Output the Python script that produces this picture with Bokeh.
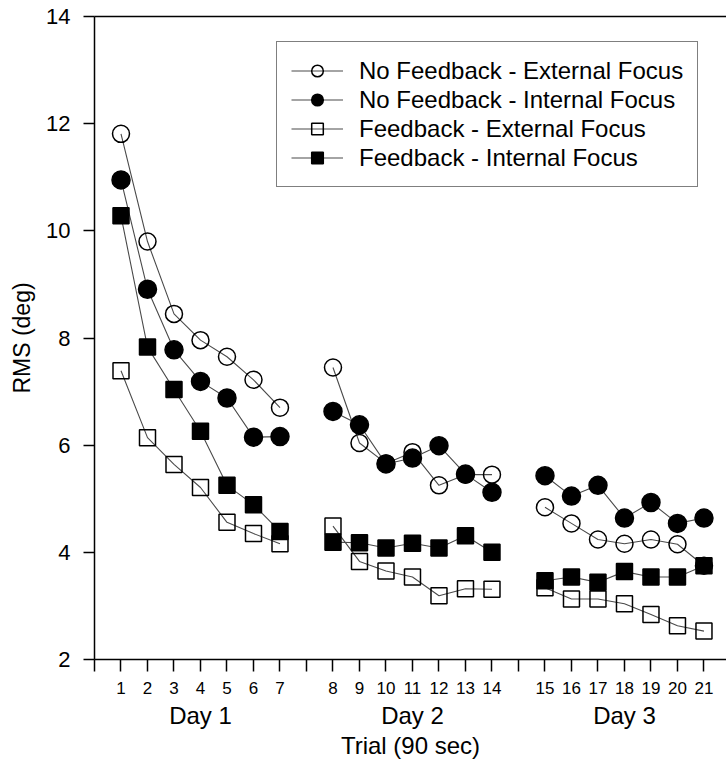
from bokeh.plotting import figure
from bokeh.models import (Range1d, FixedTicker, LinearAxis, Legend, LegendItem)
from bokeh.embed import file_html
from bokeh.resources import INLINE

# ---- data ----
trials = list(range(1, 22))
days = [1] * 7 + [2] * 7 + [3] * 7
day_names = ["Day 1", "Day 2", "Day 3"]

nf_external = [11.81, 9.80, 8.45, 7.96, 7.65, 7.22, 6.70,
               7.45, 6.04, 5.66, 5.87, 5.25, 5.45, 5.45,
               4.84, 4.54, 4.24, 4.16, 4.24, 4.15, 3.75]
nf_internal = [10.95, 8.91, 7.78, 7.19, 6.88, 6.15, 6.16,
               6.63, 6.38, 5.65, 5.76, 5.99, 5.46, 5.12,
               5.43, 5.05, 5.25, 4.64, 4.93, 4.54, 4.64]
fb_external = [7.39, 6.14, 5.64, 5.21, 4.56, 4.35, 4.16,
               4.49, 3.83, 3.65, 3.54, 3.19, 3.32, 3.31,
               3.34, 3.13, 3.13, 3.04, 2.84, 2.63, 2.53]
fb_internal = [10.28, 7.83, 7.04, 6.26, 5.25, 4.89, 4.39,
               4.19, 4.18, 4.08, 4.17, 4.08, 4.31, 4.00,
               3.47, 3.54, 3.44, 3.64, 3.54, 3.54, 3.75]

series_names = ["No Feedback - External Focus", "No Feedback - Internal Focus",
                "Feedback - External Focus", "Feedback - Internal Focus"]
y_ticks = [2, 4, 6, 8, 10, 12, 14]

# positions on the axis: one empty slot between days
pos = [t + (d - 1) for t, d in zip(trials, days)]

FONT = "Liberation Sans"

p = figure(width=726, height=763, output_backend="svg", toolbar_location=None,
           x_range=Range1d(0, 23.85), y_range=Range1d(2, 14),
           min_border_left=94, min_border_right=0, min_border_top=16, min_border_bottom=104)
p.outline_line_color = None
p.xgrid.visible = False
p.ygrid.visible = False
p.background_fill_color = "white"

# x axis (trials)
xa = p.xaxis[0]
xa.ticker = FixedTicker(ticks=list(range(0, 24)))
overrides = {i: "" for i in range(0, 24)}
for ps, t in zip(pos, trials):
    overrides[ps] = str(t)
xa.major_label_overrides = overrides
xa.major_tick_out = 12
xa.major_tick_in = 0
xa.minor_tick_out = 0
xa.minor_tick_in = 0
xa.axis_line_width = 1.5
xa.major_tick_line_width = 1.5
xa.axis_line_color = "black"
xa.major_tick_line_color = "black"
xa.major_label_text_font = FONT
xa.major_label_text_font_size = "17px"
xa.major_label_text_color = "black"
xa.major_label_standoff = 10

# second axis below: day groups + title
day_ticks = []
day_over = {}
for d, dn in zip((1, 2, 3), day_names):
    xs = [ps for ps, dd in zip(pos, days) if dd == d]
    c = int(round(sum(xs) / len(xs)))
    day_ticks.append(c)
    day_over[c] = dn
da = LinearAxis(ticker=FixedTicker(ticks=day_ticks), major_label_overrides=day_over,
                axis_line_color=None, major_tick_line_color=None,
                major_tick_out=0, major_tick_in=0, minor_tick_out=0, minor_tick_in=0,
                major_label_text_font=FONT, major_label_text_font_size="24px",
                major_label_text_color="black", major_label_standoff=5,
                axis_label="Trial (90 sec)", axis_label_text_font=FONT,
                axis_label_text_font_size="24px", axis_label_text_font_style="normal",
                axis_label_text_color="black", axis_label_standoff=0)
p.add_layout(da, "below")

# y axis
ya = p.yaxis[0]
ya.ticker = FixedTicker(ticks=y_ticks)
ya.major_tick_out = 11
ya.major_tick_in = 0
ya.minor_tick_out = 0
ya.minor_tick_in = 0
ya.axis_line_width = 1.5
ya.major_tick_line_width = 1.5
ya.axis_line_color = "black"
ya.major_tick_line_color = "black"
ya.major_label_text_font = FONT
ya.major_label_text_font_size = "22px"
ya.major_label_text_color = "black"
ya.major_label_standoff = 13
ya.axis_label = "RMS (deg)"
ya.axis_label_text_font = FONT
ya.axis_label_text_font_size = "23px"
ya.axis_label_text_font_style = "normal"
ya.axis_label_text_color = "black"
ya.axis_label_standoff = 8

# top border line
top = LinearAxis(ticker=FixedTicker(ticks=[]), major_tick_out=0, major_tick_in=0,
                 minor_tick_out=0, minor_tick_in=0, axis_line_width=1.5,
                 axis_line_color="black", major_label_text_font_size="0px")
p.add_layout(top, "above")

LINE_COLOR = "#4a4a4a"
styles = [
    dict(series=nf_external, marker="circle", size=17, fill_color="white", fill_alpha=0.0),
    dict(series=nf_internal, marker="circle", size=18, fill_color="black", fill_alpha=1.0),
    dict(series=fb_external, marker="square", size=16, fill_color="white", fill_alpha=0.0),
    dict(series=fb_internal, marker="square", size=16, fill_color="black", fill_alpha=1.0),
]

items = []
for name, st in zip(series_names, styles):
    first_line = None
    for d in (1, 2, 3):
        xs = [ps for ps, dd in zip(pos, days) if dd == d]
        ys = [v for v, dd in zip(st["series"], days) if dd == d]
        ln = p.line(xs, ys, line_color=LINE_COLOR, line_width=1.1)
        if first_line is None:
            first_line = ln
    sc = p.scatter(pos, st["series"], marker=st["marker"], size=st["size"],
                   fill_color=st["fill_color"], fill_alpha=st["fill_alpha"],
                   line_color="black", line_width=1.5)
    items.append(LegendItem(label=name, renderers=[first_line, sc]))

legend = Legend(items=items, location=(182, 472))
legend.label_text_font = FONT
legend.label_text_font_size = "24px"
legend.label_text_color = "black"
legend.glyph_width = 52
legend.glyph_height = 29
legend.label_height = 29
legend.label_standoff = 16
legend.padding = 14
legend.spacing = 0
legend.border_line_color = "black"
legend.border_line_width = 1.5
legend.background_fill_color = "white"
legend.background_fill_alpha = 1.0
p.add_layout(legend, "center")

open("out.html", "w").write(file_html(p, INLINE))
